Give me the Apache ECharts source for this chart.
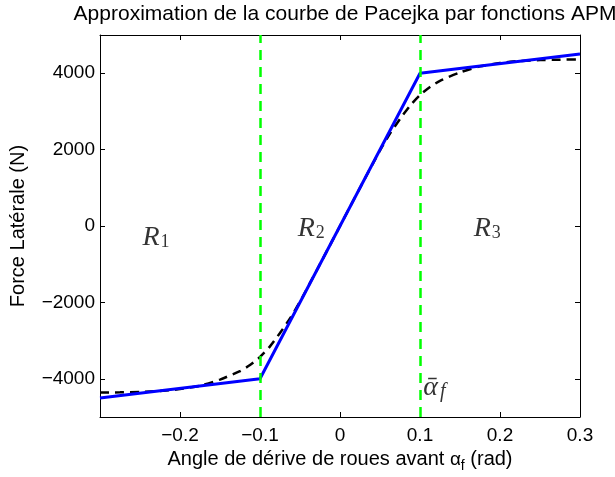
<!DOCTYPE html>
<html>
<head>
<meta charset="UTF-8">
<title>Pacejka APM</title>
<script src="https://cdn.jsdelivr.net/npm/echarts@6/dist/echarts.min.js"></script>
<style>
    html, body { margin: 0; padding: 0; background: #fff; }
    #main { width: 615px; height: 477px; }
</style>
</head>
<body>
<div id="main"></div>
<script>
// approximation APM (lineaire par morceaux)
var apmAngle = [-0.3, -0.1, 0.1, 0.3];
var apmForce = [-4500, -4000, 4000, 4500];

// courbe de Pacejka
var pacAngle = [-0.3, -0.275, -0.25, -0.225, -0.2, -0.175, -0.15, -0.125, -0.1125, -0.1, -0.0875, -0.075, -0.0625, -0.05, -0.025, 0,
                0.025, 0.05, 0.0625, 0.075, 0.0875, 0.1, 0.1125, 0.125, 0.15, 0.175, 0.2, 0.225, 0.25, 0.275, 0.3];
var pacForce = [-4360, -4355, -4345, -4320, -4270, -4180, -4020, -3800, -3640, -3430, -3150, -2800, -2420, -1980, -1000, 0,
                1000, 1980, 2420, 2800, 3150, 3430, 3640, 3800, 4020, 4180, 4270, 4320, 4345, 4355, 4360];

var xTicks = [-0.2, -0.1, 0, 0.1, 0.2, 0.3];
var yTicks = [-4000, -2000, 0, 2000, 4000];
var regionBounds = [-0.1, 0.1];

// textes dans le graphique
var annoText = ['{r|R}{s|1}', '{r|R}{s|2}', '{r|R}{s|3}', '{r|\u1FB1}{i|f}'];
var annoX = [-0.23, -0.036, 0.184, 0.118];
var annoY = [-300, -60, -60, -4240];

function zip(a, b) {
    var out = [];
    for (var i = 0; i < a.length; i++) out.push([a[i], b[i]]);
    return out;
}
function minus(v) { return String(v).replace('-', '\u2212'); }

var font = 'Liberation Sans, Arial, Helvetica, sans-serif';
var serif = 'Liberation Serif, DejaVu Serif, serif';

var chart = echarts.init(document.getElementById('main'));

var tickX = { show: true, inside: true, length: 5, customValues: xTicks, lineStyle: { color: '#000' } };
var tickY = { show: true, inside: true, length: 5, customValues: yTicks, lineStyle: { color: '#000' } };
var frame = { show: true, onZero: false, lineStyle: { color: '#000', width: 1 } };

chart.setOption({
    animation: false,
    title: {
        text: 'Approximation de la courbe de Pacejka par fonctions APM',
        left: 340, top: -1, textAlign: 'center',
        textStyle: { fontFamily: font, fontSize: 21, fontWeight: 'normal', color: '#000' }
    },
    grid: { left: 100, right: 35, top: 35, bottom: 60, outerBoundsMode: 'none', containLabel: false },
    xAxis: [{
        type: 'value', min: -0.3, max: 0.3, position: 'bottom',
        axisLine: frame,
        axisTick: tickX,
        splitLine: { show: false },
        axisLabel: { customValues: xTicks, margin: 9, fontFamily: font, fontSize: 19, color: '#000', formatter: minus },
        name: 'Angle de dérive de roues avant {a|\u03b1}{f|f} (rad)',
        nameLocation: 'middle', nameGap: 14,
        nameTextStyle: {
            fontFamily: font, fontSize: 20, color: '#000',
            rich: {
                a: { fontFamily: font, fontSize: 19, color: '#000' },
                f: { fontFamily: font, fontSize: 14, color: '#000', padding: [12, 0, 0, 0] }
            }
        }
    }, {
        type: 'value', min: -0.3, max: 0.3, position: 'top',
        axisLine: frame,
        axisTick: tickX, axisLabel: { show: false }, splitLine: { show: false }
    }],
    yAxis: [{
        type: 'value', min: -5000, max: 5000, position: 'left',
        axisLine: frame,
        axisTick: tickY,
        splitLine: { show: false },
        axisLabel: { customValues: yTicks, margin: 5, fontFamily: font, fontSize: 19, color: '#000', formatter: minus },
        name: 'Force Latérale (N)',
        nameLocation: 'middle', nameGap: 72,
        nameTextStyle: { fontFamily: font, fontSize: 20, color: '#000' }
    }, {
        type: 'value', min: -5000, max: 5000, position: 'right',
        axisLine: frame,
        axisTick: tickY, axisLabel: { show: false }, splitLine: { show: false }
    }],
    series: [{
        name: 'Pacejka', type: 'line', data: zip(pacAngle, pacForce),
        smooth: 0.2, showSymbol: false, symbol: 'none',
        lineStyle: { color: '#000', width: 2.5, type: [9, 6] },
        z: 2
    }, {
        name: 'APM', type: 'line', data: zip(apmAngle, apmForce),
        showSymbol: false, symbol: 'none',
        lineStyle: { color: '#0000ff', width: 3 },
        z: 3,
        markLine: {
            silent: true, symbol: 'none',
            label: { show: false },
            lineStyle: { color: '#00ff00', width: 2.5, type: [10, 7] },
            data: regionBounds.map(function (b) { return { xAxis: b }; })
        }
    }, {
        name: 'textes', type: 'scatter', data: zip(annoX, annoY).map(function (p, i) {
            return { value: p, label: { formatter: annoText[i] } };
        }),
        symbolSize: 0, z: 5,
        label: {
            show: true, position: 'inside',
            rich: {
                r: { fontFamily: serif, fontStyle: 'italic', fontSize: 28, color: '#000' },
                s: { fontFamily: serif, fontSize: 18, color: '#000', padding: [10, 0, 0, 1] },
                i: { fontFamily: serif, fontStyle: 'italic', fontSize: 20, color: '#000', padding: [8, 0, 0, 2] }
            }
        }
    }]
});
</script>
</body>
</html>
